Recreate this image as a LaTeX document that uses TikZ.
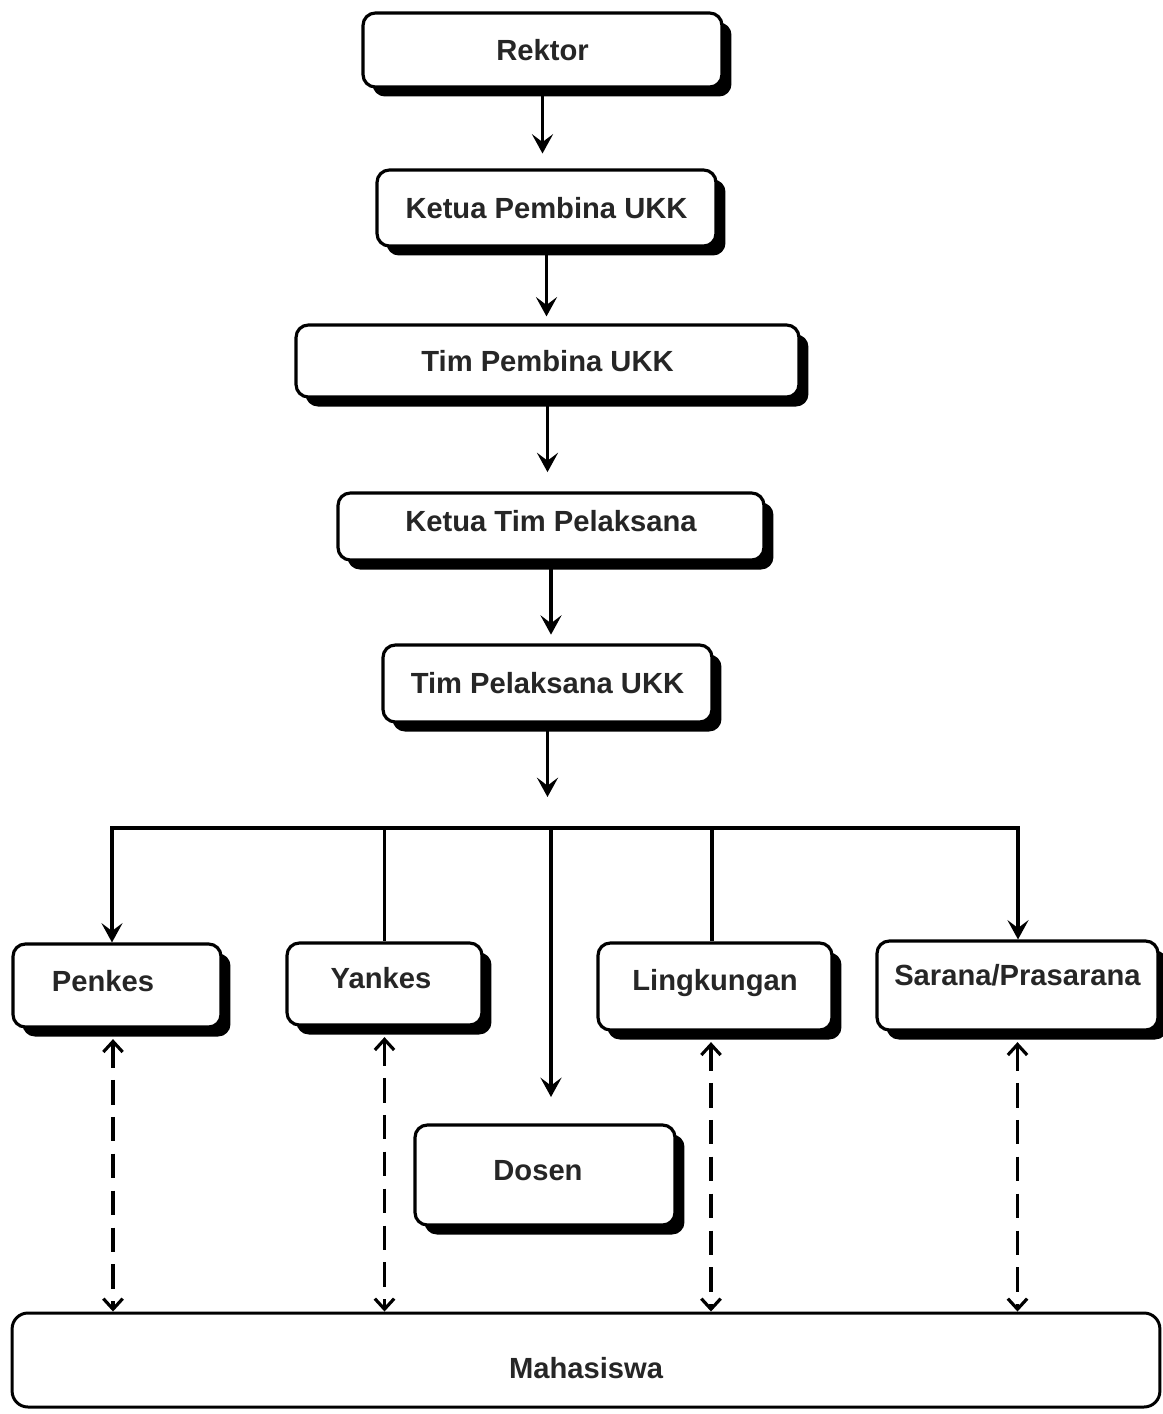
\documentclass[tikz,border=0pt]{standalone}
\usepackage{fontspec}
\setmainfont{Liberation Sans}
\usetikzlibrary{arrows.meta,shadows}
\begin{document}
\begin{tikzpicture}[x=0.02cm,y=-0.02cm,
  every node/.style={font=\fontsize{16.6}{19}\selectfont\bfseries, text=black!85},
  orgbox/.style={draw=black, line width=1.8pt, rounded corners=7pt, fill=white, inner sep=0pt,
    text height=11.7pt, text depth=0pt,
    drop shadow={shadow xshift=0.19cm, shadow yshift=-0.19cm, opacity=1, fill=black}},
  plainbox/.style={draw=black, line width=1.7pt, rounded corners=9pt, fill=white, inner sep=0pt,
    text height=11.7pt, text depth=0pt},
  conn/.style={line width=2pt, -{Stealth[length=11pt,width=12pt,inset=4.5pt]}},
  bline/.style={line width=2pt},
  dasharrow/.style={line width=1.8pt, dash pattern=on 14pt off 7pt,
    {Straight Barb[length=6pt,width=11pt]}-{Straight Barb[length=6pt,width=11pt]}},
]
\useasboundingbox (0,0) rectangle (1163,1414);

% boxes
\node[orgbox, minimum width=7.18cm, minimum height=1.48cm] (rektor) at (542.5,50) {Rektor};
\node[orgbox, minimum width=6.78cm, minimum height=1.52cm] (kpu) at (546.5,208) {Ketua Pembina UKK};
\node[orgbox, minimum width=10.06cm, minimum height=1.44cm] (tpu) at (547.5,361) {Tim Pembina UKK};
\node[orgbox, minimum width=8.52cm, minimum height=1.34cm, text depth=5.7pt] (ktp) at (551,526.5) {Ketua Tim Pelaksana};
\node[orgbox, minimum width=6.58cm, minimum height=1.54cm] (tpl) at (547.5,683.5) {Tim Pelaksana UKK};
\node[orgbox, minimum width=4.16cm, minimum height=1.66cm, text depth=4.5pt] (penkes) at (117,985.5) {Penkes\kern15.9pt};
\node[orgbox, minimum width=3.9cm, minimum height=1.64cm, text depth=6.8pt] (yankes) at (384.5,984) {Yankes\kern4pt};
\node[orgbox, minimum width=4.68cm, minimum height=1.74cm, text depth=6.8pt] (lingk) at (715,986.5) {Lingkungan};
\node[orgbox, minimum width=5.62cm, minimum height=1.78cm, text depth=11.3pt] (sarana) at (1017.5,985.5) {Sarana/Prasarana};
\node[orgbox, minimum width=5.2cm, minimum height=2.0cm, text depth=5.7pt] (dosen) at (545,1175) {Dosen\kern8pt};
\node[plainbox, minimum width=22.96cm, minimum height=1.88cm, text height=20.8pt] (maha) at (586,1360) {Mahasiswa};

% main chain
\draw[conn, shorten >=8.5pt] (rektor.south) -- (rektor.south |- kpu.north);
\draw[conn, shorten >=4pt] (kpu.south) -- (kpu.south |- tpu.north);
\draw[conn, shorten >=11pt] (tpu.south) -- (tpu.south |- ktp.north);
\draw[conn, shorten >=5pt] (ktp.south) -- (ktp.south |- tpl.north);
\coordinate (hub) at (547.5,797);
\draw[conn] (tpl.south) -- (hub);

% distribution bar
\coordinate (barL) at (112,828);
\coordinate (barR) at (1018,828);
\draw[line width=2.8pt, line cap=rect] (barL) -- (barR);
\draw[conn] (barL) -- (barL |- penkes.north);
\draw[bline] (yankes.north |- barL) -- (yankes.north);
\coordinate (dtip) at (551,1097);
\draw[conn] (dtip |- barL) -- (dtip);
\draw[bline] ([xshift=-0.06cm]lingk.north |- barL) -- ([xshift=-0.06cm]lingk.north);
\draw[conn] (barR) -- (barR |- sarana.north);

% dashed two-way links to Mahasiswa
\draw[dasharrow, shorten <=6pt] ([xshift=-0.08cm]penkes.south) -- ([xshift=-0.08cm]penkes.south |- maha.north);
\draw[dasharrow, shorten <=6pt] (yankes.south) -- (yankes.south |- maha.north);
\draw[dasharrow, shorten <=6pt] ([xshift=-0.08cm]lingk.south) -- ([xshift=-0.08cm]lingk.south |- maha.north);
\draw[dasharrow, shorten <=6pt] (sarana.south) -- (sarana.south |- maha.north);
\end{tikzpicture}
\end{document}
